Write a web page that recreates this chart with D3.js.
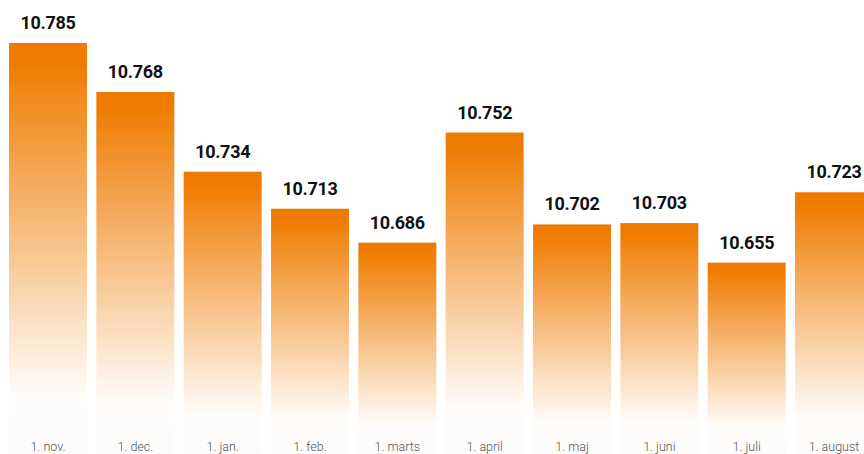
<!DOCTYPE html>
<html>
<head>
<meta charset="utf-8">
<script src="https://cdn.jsdelivr.net/npm/d3@7"></script>
<style>
  body { margin: 0; background: #fff; }
  svg { display: block; }
  .value { font-family: Roboto, "DejaVu Sans", sans-serif; font-weight: bold; font-size: 18px; fill: #111; letter-spacing: -0.3px; }
  .cat { font-family: Roboto, "DejaVu Sans", sans-serif; font-weight: 300; font-size: 12.5px; fill: #555; }
</style>
</head>
<body>
<div id="chart"></div>
<script>
// months and counts
const categories = ["1. nov.", "1. dec.", "1. jan.", "1. feb.", "1. marts", "1. april", "1. maj", "1. juni", "1. juli", "1. august"];
const values = [10785, 10768, 10734, 10713, 10686, 10752, 10702, 10703, 10655, 10723];

const width = 864;
const height = 454;
const base = 10640;   // bar heights are measured from here

const data = categories.map((c, i) => ({ cat: c, value: values[i] }));

const svg = d3.select("#chart").append("svg")
    .attr("width", width)
    .attr("height", height);

// gradient orange -> white
const grad = svg.append("defs").append("linearGradient")
    .attr("id", "barGrad")
    .attr("x1", 0).attr("y1", 0).attr("x2", 0).attr("y2", 1);
grad.append("stop").attr("offset", 0).attr("stop-color", "#ee7900");
grad.append("stop").attr("offset", 0.04).attr("stop-color", "#ef7b00");
grad.append("stop").attr("offset", 0.86).attr("stop-color", "#fffdfb");
grad.append("stop").attr("offset", 1).attr("stop-color", "#fcfcfc");

const x = d3.scaleBand()
    .domain(categories)
    .range([9, 873])
    .paddingInner(0.107)
    .paddingOuter(0);

const y = d3.scalePow()
    .exponent(2)
    .domain([0, d3.max(values) - base])
    .range([265, 43]);

const fmt = d3.formatLocale({ decimal: ",", thousands: ".", grouping: [3], currency: ["", " kr."] }).format(",d");

svg.selectAll(".bar")
    .data(data)
    .enter()
    .append("rect")
    .attr("class", "bar")
    .attr("x", d => x(d.cat))
    .attr("y", d => y(d.value - base))
    .attr("width", x.bandwidth())
    .attr("height", d => height - y(d.value - base))
    .attr("fill", "url(#barGrad)");

svg.selectAll(".value")
    .data(data)
    .enter()
    .append("text")
    .attr("class", "value")
    .attr("x", d => x(d.cat) + x.bandwidth() / 2)
    .attr("y", d => y(d.value - base) - 14)
    .attr("text-anchor", "middle")
    .text(d => fmt(d.value));

svg.selectAll(".cat")
    .data(data)
    .enter()
    .append("text")
    .attr("class", "cat")
    .attr("x", d => x(d.cat) + x.bandwidth() / 2)
    .attr("y", 451)
    .attr("text-anchor", "middle")
    .text(d => d.cat);
</script>
</body>
</html>
